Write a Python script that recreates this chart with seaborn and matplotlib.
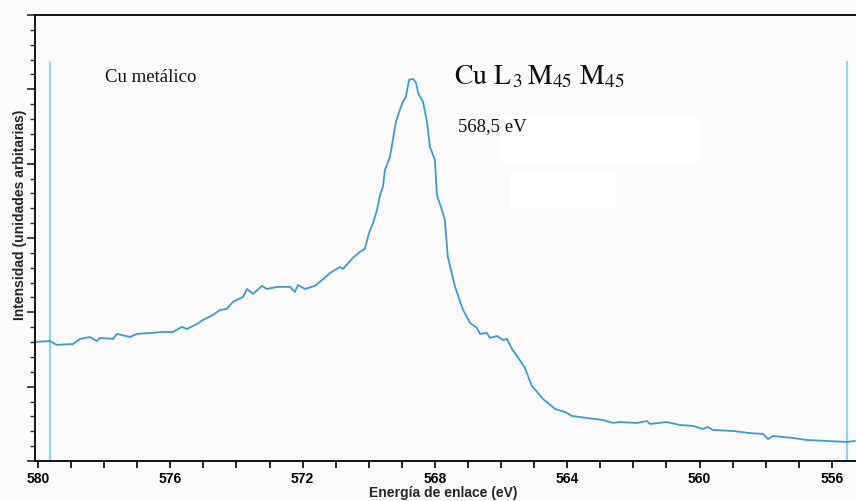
import matplotlib
matplotlib.use("Agg")
import matplotlib.pyplot as plt
from matplotlib.patches import Rectangle
from matplotlib.ticker import MultipleLocator
import numpy as np
import pandas as pd
import seaborn as sns

# Binding energy (eV) and intensity (arbitrary units)
energy = [580.09, 579.64, 579.43, 578.94, 578.73, 578.43, 578.22, 578.13, 577.73, 577.61,
          577.22, 577.01, 576.61, 576.22, 575.92, 575.65, 575.50, 575.19, 575.01, 574.71,
          574.50, 574.29, 574.11, 573.80, 573.68, 573.50, 573.23, 573.08, 572.78, 572.38,
          572.23, 572.14, 571.93, 571.63, 571.41, 571.17, 570.87, 570.78, 570.48, 570.27,
          570.12, 569.99, 569.87, 569.75, 569.66, 569.57, 569.51, 569.36, 569.27, 569.18,
          569.06, 568.97, 568.88, 568.78, 568.66, 568.57, 568.51, 568.36, 568.24, 568.15,
          568.00, 567.94, 567.82, 567.70, 567.61, 567.39, 567.15, 566.94, 566.73, 566.64,
          566.43, 566.34, 566.12, 565.94, 565.82, 565.67, 565.52, 565.28, 565.07, 564.73,
          564.37, 564.07, 563.86, 563.40, 562.92, 562.62, 562.41, 561.89, 561.59, 561.50,
          560.99, 560.59, 560.20, 559.90, 559.75, 559.60, 558.99, 558.48, 558.08, 557.93,
          557.78, 557.18, 556.75, 556.15, 555.54, 555.30]
intensity = [8.01, 8.07, 7.81, 7.87, 8.21, 8.34, 8.07, 8.28, 8.21, 8.55,
             8.34, 8.55, 8.61, 8.68, 8.68, 9.02, 8.88, 9.22, 9.49, 9.82,
             10.16, 10.23, 10.70, 11.04, 11.57, 11.24, 11.78, 11.57, 11.71, 11.71,
             11.37, 11.84, 11.57, 11.78, 12.18, 12.65, 13.05, 12.92, 13.66, 14.06,
             14.27, 15.34, 16.02, 16.89, 17.90, 18.44, 19.58, 20.46, 21.60, 22.81,
             23.62, 24.16, 24.49, 25.64, 25.70, 25.44, 24.76, 24.16, 22.81, 21.13,
             20.25, 17.90, 17.09, 16.22, 13.73, 11.71, 10.16, 9.29, 8.95, 8.55,
             8.61, 8.28, 8.41, 8.14, 8.21, 7.54, 7.07, 6.26, 5.05, 4.17,
             3.50, 3.30, 3.03, 2.89, 2.76, 2.56, 2.62, 2.56, 2.69, 2.49,
             2.62, 2.42, 2.36, 2.15, 2.29, 2.09, 2.02, 1.88, 1.82, 1.48,
             1.68, 1.55, 1.41, 1.35, 1.28, 1.35]

ref_lines = [579.64, 555.54]
x_major = [580, 576, 572, 568, 564, 560, 556]

df = pd.DataFrame({"Energía de enlace (eV)": energy, "Intensidad": intensity})

sns.set_theme(style="ticks")
plt.rcParams["font.family"] = ["Liberation Sans", "DejaVu Sans"]
plt.rcParams["mathtext.fontset"] = "stix"

bg = "#fbfbfb"
fig = plt.figure(figsize=(8.56, 5.01), dpi=100, facecolor=bg)
ax = fig.add_axes([35 / 856, 1 - 461 / 501, 1 - 35 / 856, (461 - 15) / 501])
ax.set_facecolor(bg)

# faint white boxes present in the original
ax.add_patch(Rectangle((0.566, 0.664), 0.244, 0.112, transform=ax.transAxes,
                       facecolor="white", edgecolor="none", zorder=0))
ax.add_patch(Rectangle((0.579, 0.567), 0.130, 0.081, transform=ax.transAxes,
                       facecolor="white", edgecolor="none", zorder=0))

for xv in ref_lines:
    ax.plot([xv, xv], [0, 26.85], color="#86d9f4", lw=1.6, zorder=1)

sns.lineplot(data=df, x="Energía de enlace (eV)", y="Intensidad", ax=ax,
             color="#3a9dd0", lw=1.3, estimator=None, sort=False, zorder=2)

ax.set_xlim(580.09, 555.27)
ax.set_ylim(0, 30)

ax.set_xticks(x_major)
ax.xaxis.set_minor_locator(MultipleLocator(1))
ax.set_xticklabels([str(v) for v in x_major], fontweight="bold", fontsize=10)
ax.tick_params(axis="x", which="both", direction="out", length=5, width=1.2,
               colors="black", pad=3)

ax.yaxis.set_major_locator(MultipleLocator(5))
ax.yaxis.set_minor_locator(MultipleLocator(1))
ax.set_yticklabels([])
ax.tick_params(axis="y", which="major", direction="out", length=6, width=1.2)
ax.tick_params(axis="y", which="minor", direction="out", length=3.5, width=1.0)

for s in ["left", "bottom", "top"]:
    ax.spines[s].set_linewidth(1.3)
    ax.spines[s].set_color("black")
ax.spines["right"].set_visible(False)

ax.set_xlabel("Energía de enlace (eV)", fontweight="bold", fontsize=10)
ax.xaxis.set_label_coords((443 - 35) / 821, (461 - 493) / 446)
ax.xaxis.label.set_va("center")
ax.set_ylabel("Intensidad (unidades arbitarias)", fontweight="bold", fontsize=10)
ax.yaxis.set_label_coords((20 - 35) / 821, (461 - 215) / 446)
ax.yaxis.label.set_va("center")

serif = ["Liberation Serif", "DejaVu Serif"]
ax.text(0.085, 0.859, "Cu metálico", transform=ax.transAxes, family=serif,
        fontsize=13.5, va="center", ha="left", color="#111111")
ax.text(0.510, 0.862, r"$\mathrm{Cu\ L_{\,3}\,M_{45}\ M_{45}}$", transform=ax.transAxes,
        fontsize=20, va="center", ha="left", color="#111111")
ax.text(0.515, 0.749, "568,5 eV", transform=ax.transAxes, family=serif,
        fontsize=13.5, va="center", ha="left", color="#111111")

fig.savefig("out.png", dpi=100, facecolor=bg)
